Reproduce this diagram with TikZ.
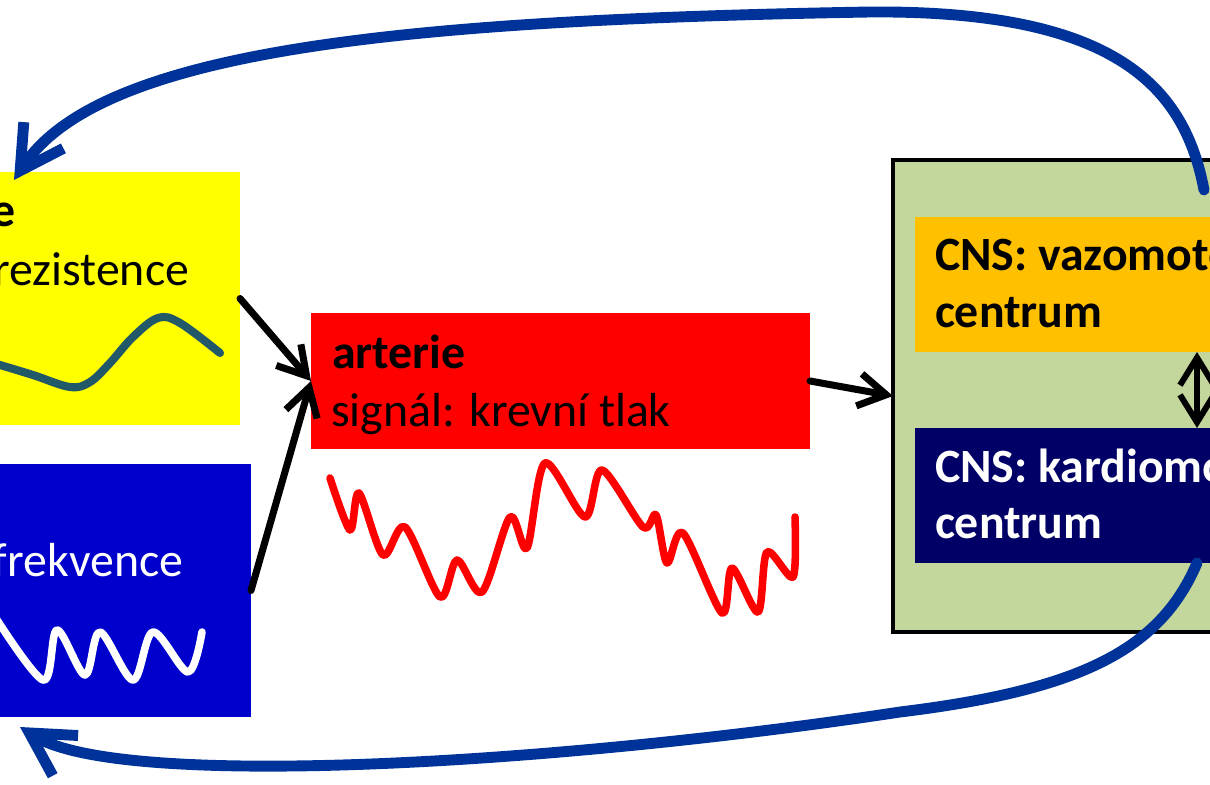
\documentclass[tikz,border=0pt]{standalone}
\usepackage{fontspec}
\setmainfont{Carlito}
\usetikzlibrary{arrows.meta, positioning}

\definecolor{resyellow}{HTML}{FFFF00}
\definecolor{hrblue}{HTML}{0000CC}
\definecolor{artred}{HTML}{FF0000}
\definecolor{cnsgreen}{HTML}{C3D69B}
\definecolor{vasoorange}{HTML}{FFC000}
\definecolor{cardnavy}{HTML}{000066}
\definecolor{fbblue}{HTML}{003399}
\definecolor{restcurve}{HTML}{215968}

\begin{document}
\begin{tikzpicture}[
	x=0.2mm, y=-0.2mm,
	every node/.style = {inner sep=0pt, outer sep=0pt, font=\fontsize{27.2}{32.9}\selectfont},
	area/.style = {rectangle, anchor=north west, draw=none},
	head line/.style = {anchor=base west, font=\fontsize{27.2}{32.9}\selectfont\bfseries},
	plain line/.style = {anchor=base west},
	signal/.style = {line width=4.3pt, line cap=round, line join=round},
	link/.style = {line width=4pt, line cap=round, line join=round, -{Straight Barb[length=5.5mm, width=6.5mm]}},
	feedback/.style = {draw=fbblue, line width=6.2pt, line cap=round, line join=round, -{Straight Barb[length=8.5mm, width=9.5mm]}}
]

\path[use as bounding box, fill=white] (0,0) rectangle (1210,785);

% organs
\node[area, fill=resyellow, minimum width=88mm, minimum height=50.6mm] (res) at (-200,172) {};
\node[area, fill=hrblue, minimum width=90.2mm, minimum height=50.6mm] (hr) at (-200,464) {};
\node[area, fill=artred, minimum width=99.8mm, minimum height=27.2mm] (art) at (311,313) {};

% centres
\node[area, fill=cnsgreen, draw=black, line width=2.3pt, minimum width=121.4mm, minimum height=94.4mm] (cns) at (893,160) {};
\node[area, fill=vasoorange, minimum width=112.8mm, minimum height=27mm] (vaso) at (915,217) {};
\node[area, fill=cardnavy, minimum width=112.8mm, minimum height=27mm] (card) at (915,428) {};

% texts
\node[head line, anchor=base east] (restitle) at (16,227) {e};
\node[plain line, anchor=base east] (restext) at (189,285) {rezistence};
\node[plain line, anchor=base east, text=white] (hrtext) at (183,576) {frekvence};
\node[head line] (arttitle) at (332,368) {arterie};
\node[plain line] (arttext) at (331,426) {signál: krevní tlak};
\node[head line] (vasotitle) at (935,270) {CNS: vazomotorické};
\node[head line] (vasotext) at (935,327) {centrum};
\node[head line, text=white] (cardtitle) at (935,482) {CNS: kardiomotorické};
\node[head line, text=white] (cardtext) at (935,538) {centrum};

% signals
\draw[signal, draw=restcurve, line width=4.6pt] plot[smooth, tension=0.6] coordinates {
	(-10,362) (0,365) (33,375) (70,387) (90,382) (110,363) (133,337) (158,318) (180,323) (220,353)};
\draw[signal, draw=white] plot[smooth, tension=0.55] coordinates {
	(-8,612) (43,680) (57,630) (85,675) (100,632) (133,680) (153,632) (188,672) (202,632)};
\draw[signal, draw=artred] plot[smooth, tension=0.5] coordinates {
	(330,478) (350,530) (359,493) (383,555) (405,527) (440,597) (457,560) (482,592)
	(510,517) (527,548) (545,463) (585,517) (602,470) (643,527) (656,515) (667,563)
	(683,533) (722,613) (732,568) (758,612) (767,552) (793,577) (795,517)};

% connections
\draw[link] (res.east) -- (art.west);
\draw[link] (hr.east) -- (art.west);
\draw[link] (art.east) -- (cns.west);
\draw[link, line width=3.4pt, {Straight Barb[length=5.5mm, width=6.8mm]}-{Straight Barb[length=5.5mm, width=6.8mm]}] (vaso.south) -- (card.north);

% feedback
\coordinate (fb top) at (1204,190);
\coordinate (res in) at (14,180);
\coordinate (hr in) at (20,727);
\draw[feedback] (fb top) .. controls (1185,90) and (1120,10) .. (870,12) .. controls (400,20) and (100,50) .. (res in);
\draw[feedback] (card.south) .. controls (1160,650) and (1080,690) .. (900,712) .. controls (550,765) and (120,790) .. (hr in);

\end{tikzpicture}
\end{document}
